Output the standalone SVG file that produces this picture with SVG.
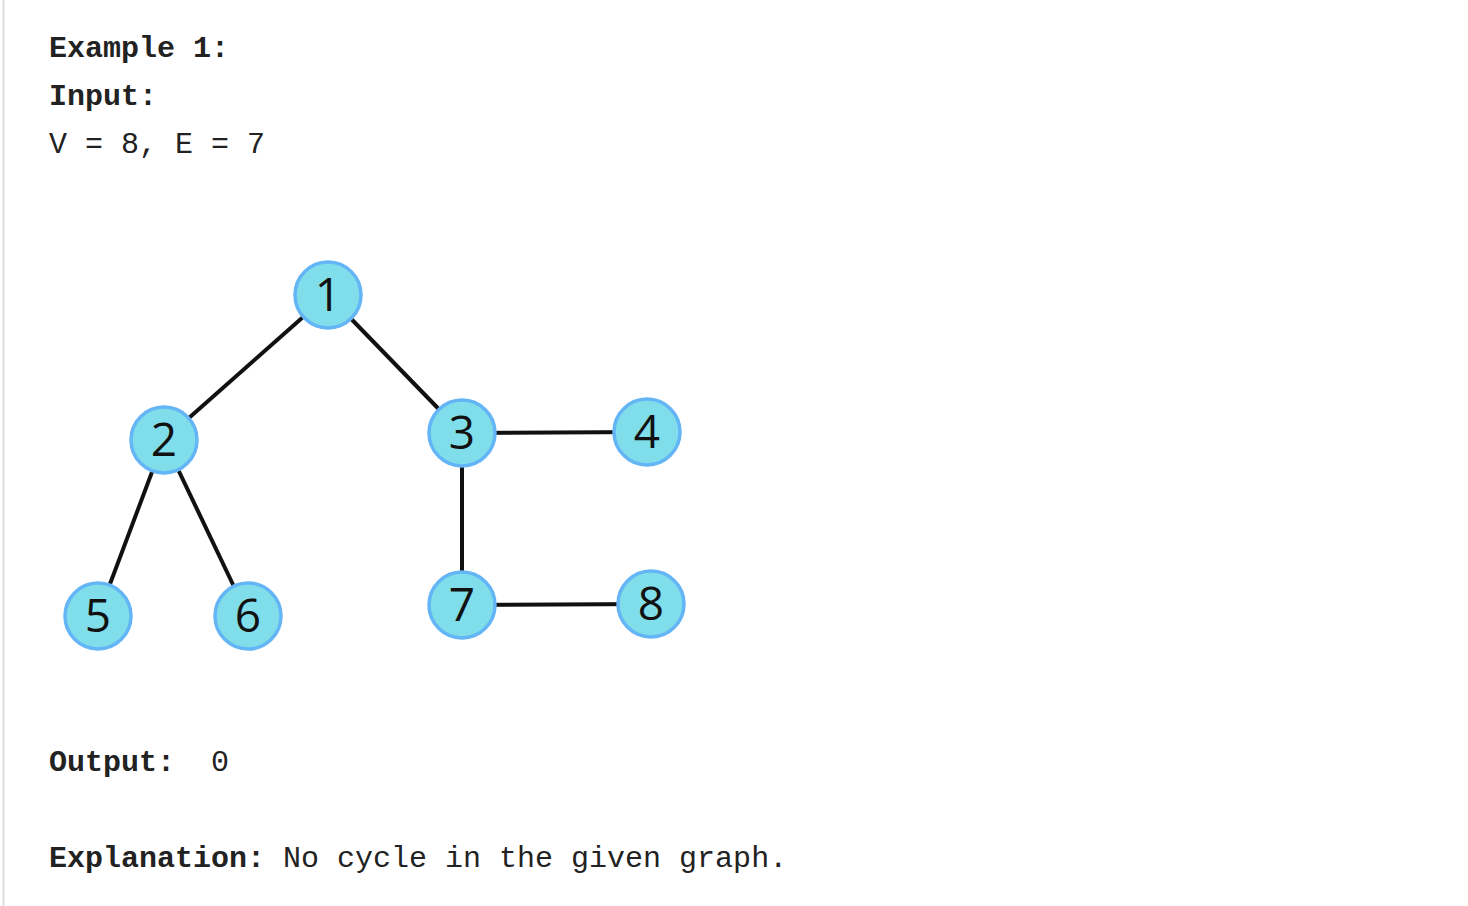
<svg xmlns="http://www.w3.org/2000/svg" width="1468" height="906" viewBox="0 0 1468 906">
<style>
.t{font-family:"Liberation Mono","Courier New",monospace;font-size:30px;fill:#222;white-space:pre}
.b{font-weight:bold}
.n circle{fill:#80deea;stroke:#64b5f6;stroke-width:3.5}
.n text{font-family:"Open Sans","Noto Sans",sans-serif;font-size:46px;fill:#111;text-anchor:middle;dominant-baseline:central}
.e line{stroke:#111;stroke-width:4}
</style>
<rect width="1468" height="906" fill="#fff"/>
<line x1="3.5" y1="0" x2="3.5" y2="906" stroke="#ddd" stroke-width="2"/>
<text class="t b" x="49" y="57">Example 1:</text>
<text class="t b" x="49" y="105">Input:</text>
<text class="t" x="49" y="153">V = 8, E = 7</text>
<g class="e" id="edges">
<line x1="328" y1="295" x2="164" y2="440"/>
<line x1="328" y1="295" x2="462" y2="433"/>
<line x1="462" y1="433" x2="647" y2="432"/>
<line x1="462" y1="433" x2="462" y2="605"/>
<line x1="462" y1="605" x2="651" y2="604"/>
<line x1="164" y1="440" x2="98" y2="616"/>
<line x1="164" y1="440" x2="248" y2="616"/>
</g>
<g class="n" id="n1"><circle cx="328" cy="295" r="33"/><text x="328" y="293">1</text></g>
<g class="n" id="n2"><circle cx="164" cy="440" r="33"/><text x="164" y="438">2</text></g>
<g class="n" id="n3"><circle cx="462" cy="433" r="33"/><text x="462" y="431">3</text></g>
<g class="n" id="n4"><circle cx="647" cy="432" r="33"/><text x="647" y="430">4</text></g>
<g class="n" id="n5"><circle cx="98" cy="616" r="33"/><text x="98" y="614">5</text></g>
<g class="n" id="n6"><circle cx="248" cy="616" r="33"/><text x="248" y="614">6</text></g>
<g class="n" id="n7"><circle cx="462" cy="605" r="33"/><text x="462" y="603">7</text></g>
<g class="n" id="n8"><circle cx="651" cy="604" r="33"/><text x="651" y="602">8</text></g>
<text class="t" x="49" y="771"><tspan class="b">Output:</tspan>  0</text>
<text class="t" x="49" y="867"><tspan class="b">Explanation:</tspan> No cycle in the given graph.</text>
</svg>
